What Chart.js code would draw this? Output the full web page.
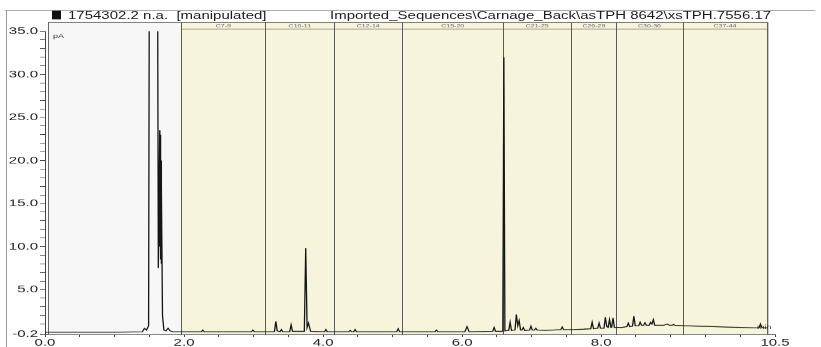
<!DOCTYPE html>
<html>
<head>
<meta charset="utf-8">
<script src="https://cdn.jsdelivr.net/npm/chart.js@4"></script>
<style>
  body { margin: 0; background: #fff; overflow: hidden; }
  #wrap { position: relative; width: 821px; height: 520px; transform: scaleY(0.6673); transform-origin: 0 0; }
  #wrap canvas { position: absolute; left: 0; top: 0; }
  .ttl { position: absolute; top: 14px; font: 15px "Liberation Sans", Arial, sans-serif; line-height: 17px; color: #1c1c1c; white-space: pre; }
  #sq { position: absolute; left: 52px; top: 16px; width: 9px; height: 13px; background: #111; }
</style>
</head>
<body>
<div id="wrap">
  <canvas id="chrom" width="821" height="520"></canvas>
  <div id="sq"></div>
  <div class="ttl" style="left:68px">1754302.2 n.a.  [manipulated]</div>
  <div class="ttl" style="left:330px">Imported_Sequences\Carnage_Back\asTPH 8642\xsTPH.7556.17</div>
</div>
<script>
// Dados do cromatograma (min / pA)
const retentionTimes = [
  0.00, 0.50, 1.00, 1.40, 1.43, 1.46, 1.49, 1.50, 1.62, 1.63, 1.65, 1.652, 1.655, 1.658, 1.66, 1.663, 1.665, 1.668, 1.67, 1.673, 1.675, 1.69, 1.71, 1.74, 1.77, 1.80, 1.84,
  2.25, 2.27, 2.29, 2.97, 2.99, 3.01, 3.30, 3.32, 3.34, 3.38, 3.40, 3.42, 3.52, 3.54, 3.56,
  3.73, 3.75, 3.77, 3.79, 3.82, 4.02, 4.04, 4.06, 4.37, 4.39, 4.41, 4.44, 4.46, 4.48,
  5.06, 5.08, 5.10, 5.61, 5.63, 5.65, 6.04, 6.07, 6.10, 6.44, 6.46, 6.48,
  6.585, 6.60, 6.615, 6.67, 6.69, 6.71, 6.76, 6.78, 6.80, 6.82, 6.84, 6.86, 6.88, 6.90,
  6.97, 6.99, 7.01, 7.04, 7.06, 7.08, 7.20, 7.30, 7.42, 7.44, 7.46, 7.60, 7.75,
  7.85, 7.87, 7.89, 7.95, 7.97, 7.99, 8.04, 8.06, 8.08, 8.10, 8.12, 8.14, 8.15, 8.17, 8.19,
  8.30, 8.37, 8.39, 8.41, 8.45, 8.47, 8.49, 8.54, 8.56, 8.58, 8.61, 8.63, 8.65,
  8.69, 8.71, 8.73, 8.75, 8.77, 8.90, 8.95, 8.98, 9.02, 9.04, 9.06,
  9.20, 9.40, 9.60, 9.80, 10.00, 10.27, 10.29, 10.31, 10.35, 10.39
];
const signal = [
  0.05, 0.05, 0.05, 0.1, 0.5, 0.3, 0.8, 40, 40, 7.5, 23.5, 10, 22.5, 8.5, 21, 11, 23, 9, 20, 8, 17, 2, 0.3, 0.2, 0.5, 0.2, 0.1,
  0.1, 0.3, 0.1, 0.1, 0.3, 0.1, 0.1, 1.3, 0.2, 0.1, 0.35, 0.1, 0.1, 0.9, 0.15,
  0.15, 9.8, 0.6, 1.1, 0.15, 0.1, 0.35, 0.1, 0.1, 0.25, 0.1, 0.1, 0.35, 0.1,
  0.1, 0.45, 0.1, 0.1, 0.3, 0.1, 0.1, 0.7, 0.1, 0.15, 0.6, 0.15,
  0.15, 32.0, 0.2, 0.25, 1.2, 0.25, 0.3, 2.1, 0.8, 1.4, 0.3, 0.3, 0.6, 0.25,
  0.3, 0.75, 0.3, 0.3, 0.5, 0.3, 0.25, 0.3, 0.35, 0.65, 0.35, 0.35, 0.4,
  0.45, 1.2, 0.45, 0.5, 1.1, 0.5, 0.5, 1.8, 0.7, 0.6, 1.5, 0.6, 0.6, 1.7, 0.6,
  0.6, 0.7, 1.1, 0.7, 0.75, 1.9, 0.8, 0.8, 1.2, 0.85, 0.85, 1.15, 0.85,
  0.85, 1.2, 1.0, 1.5, 0.85, 0.85, 1.0, 0.85, 0.85, 0.95, 0.85,
  0.8, 0.75, 0.7, 0.65, 0.6, 0.55, 1.0, 0.6, 0.55, 0.55
];

// Faixas de carbono
const bandEdges = [1.96, 3.17, 4.16, 5.14, 6.59, 7.57, 8.22, 9.17, 10.39];
const bandLabels = ['C7-9', 'C10-11', 'C12-14', 'C15-20', 'C21-25', 'C26-29', 'C30-36', 'C37-44'];

// Eixos (marcas principais com rótulo, secundárias sem)
const xTicks = [0, 2, 4, 6, 8, 10.5];
const xMinorTicks = [0.5, 1, 1.5, 2.5, 3, 3.5, 4.5, 5, 5.5, 6.5, 7, 7.5, 8.5, 9, 9.5, 10];
const yTicks = [-0.2, 5, 10, 15, 20, 25, 30, 35];
const yMinorTicks = [1, 2, 3, 4, 6, 7, 8, 9, 11, 12, 13, 14, 16, 17, 18, 19, 21, 22, 23, 24, 26, 27, 28, 29, 31, 32, 33, 34];

const FONT = '"Liberation Sans", Arial, sans-serif';
const FRAME_LEFT = 48, FRAME_TOP = 33, STRIP_H = 10;

// Fundo, faixas e moldura
const bandsPlugin = {
  id: 'bands',
  beforeDatasetsDraw(chart) {
    const { ctx, chartArea: a, scales: { x } } = chart;
    const x0 = x.getPixelForValue(bandEdges[0]);
    const xEnd = x.getPixelForValue(bandEdges[bandEdges.length - 1]);
    ctx.save();
    // moldura externa
    ctx.strokeStyle = '#9a9a9a';
    ctx.lineWidth = 1;
    ctx.beginPath();
    ctx.moveTo(5, 15.5); ctx.lineTo(815, 15.5);
    ctx.moveTo(6.5, 15); ctx.lineTo(6.5, 520);
    ctx.stroke();

    ctx.fillStyle = '#f6f7f6';
    ctx.fillRect(FRAME_LEFT, FRAME_TOP, x0 - FRAME_LEFT, a.bottom - FRAME_TOP);
    ctx.fillStyle = '#f6f4da';
    ctx.fillRect(x0, FRAME_TOP, xEnd - x0, a.bottom - FRAME_TOP);

    ctx.strokeStyle = '#5a5a5a';
    ctx.beginPath();
    bandEdges.forEach(v => {
      const px = Math.round(x.getPixelForValue(v)) + 0.5;
      ctx.moveTo(px, FRAME_TOP); ctx.lineTo(px, a.bottom);
    });
    ctx.moveTo(x0, FRAME_TOP + STRIP_H + 0.5); ctx.lineTo(xEnd, FRAME_TOP + STRIP_H + 0.5);
    ctx.stroke();

    ctx.strokeStyle = '#666';
    ctx.strokeRect(FRAME_LEFT + 0.5, FRAME_TOP + 0.5, xEnd - FRAME_LEFT, a.bottom - FRAME_TOP);

    ctx.fillStyle = '#666';
    ctx.font = '7px ' + FONT;
    ctx.textAlign = 'center';
    ctx.textBaseline = 'middle';
    bandLabels.forEach((lbl, i) => {
      const cx = (x.getPixelForValue(bandEdges[i]) + x.getPixelForValue(bandEdges[i + 1])) / 2;
      ctx.fillText(lbl, cx, FRAME_TOP + STRIP_H / 2 + 1);
    });
    ctx.fillStyle = '#333';
    ctx.font = '9px ' + FONT;
    ctx.textAlign = 'left';
    ctx.fillText('pA', 53, a.top + 8);
    ctx.fillText('min', 757, a.bottom - 10);
    ctx.restore();
  }
};

const isMajor = (list, v) => list.some(t => Math.abs(t - v) < 1e-6);

new Chart(document.getElementById('chrom'), {
  type: 'line',
  data: {
    datasets: [{
      data: retentionTimes.map((t, i) => ({ x: t, y: signal[i] })),
      borderColor: '#161616',
      borderWidth: 1.3,
      pointRadius: 0,
      tension: 0,
      fill: false
    }]
  },
  options: {
    responsive: false,
    animation: false,
    devicePixelRatio: 1,
    layout: { padding: { top: 47, right: 46, left: 0, bottom: 0 } },
    plugins: { legend: { display: false }, tooltip: { enabled: false } },
    scales: {
      x: {
        type: 'linear',
        min: 0, max: 10.5,
        afterBuildTicks: s => { s.ticks = xTicks.concat(xMinorTicks).sort((p, q) => p - q).map(v => ({ value: v })); },
        afterFit: s => { s.height = 19; },
        grid: { drawOnChartArea: false, tickLength: 4, color: '#444' },
        border: { color: '#444' },
        ticks: {
          autoSkip: false, maxRotation: 0, padding: 0, color: '#1c1c1c',
          font: { family: FONT, size: 15 },
          callback: v => isMajor(xTicks, v) ? v.toFixed(1) : ''
        }
      },
      y: {
        min: -0.2, max: 35,
        afterBuildTicks: s => { s.ticks = yTicks.concat(yMinorTicks).sort((p, q) => p - q).map(v => ({ value: v })); },
        afterFit: s => { s.width = 45; },
        grid: { drawOnChartArea: false, tickLength: 5, color: '#444' },
        border: { color: '#444' },
        ticks: {
          autoSkip: false, padding: 2, color: '#1c1c1c',
          font: { family: FONT, size: 15 },
          callback: v => isMajor(yTicks, v) ? v.toFixed(1) : ''
        }
      }
    }
  },
  plugins: [bandsPlugin]
});
</script>
</body>
</html>
